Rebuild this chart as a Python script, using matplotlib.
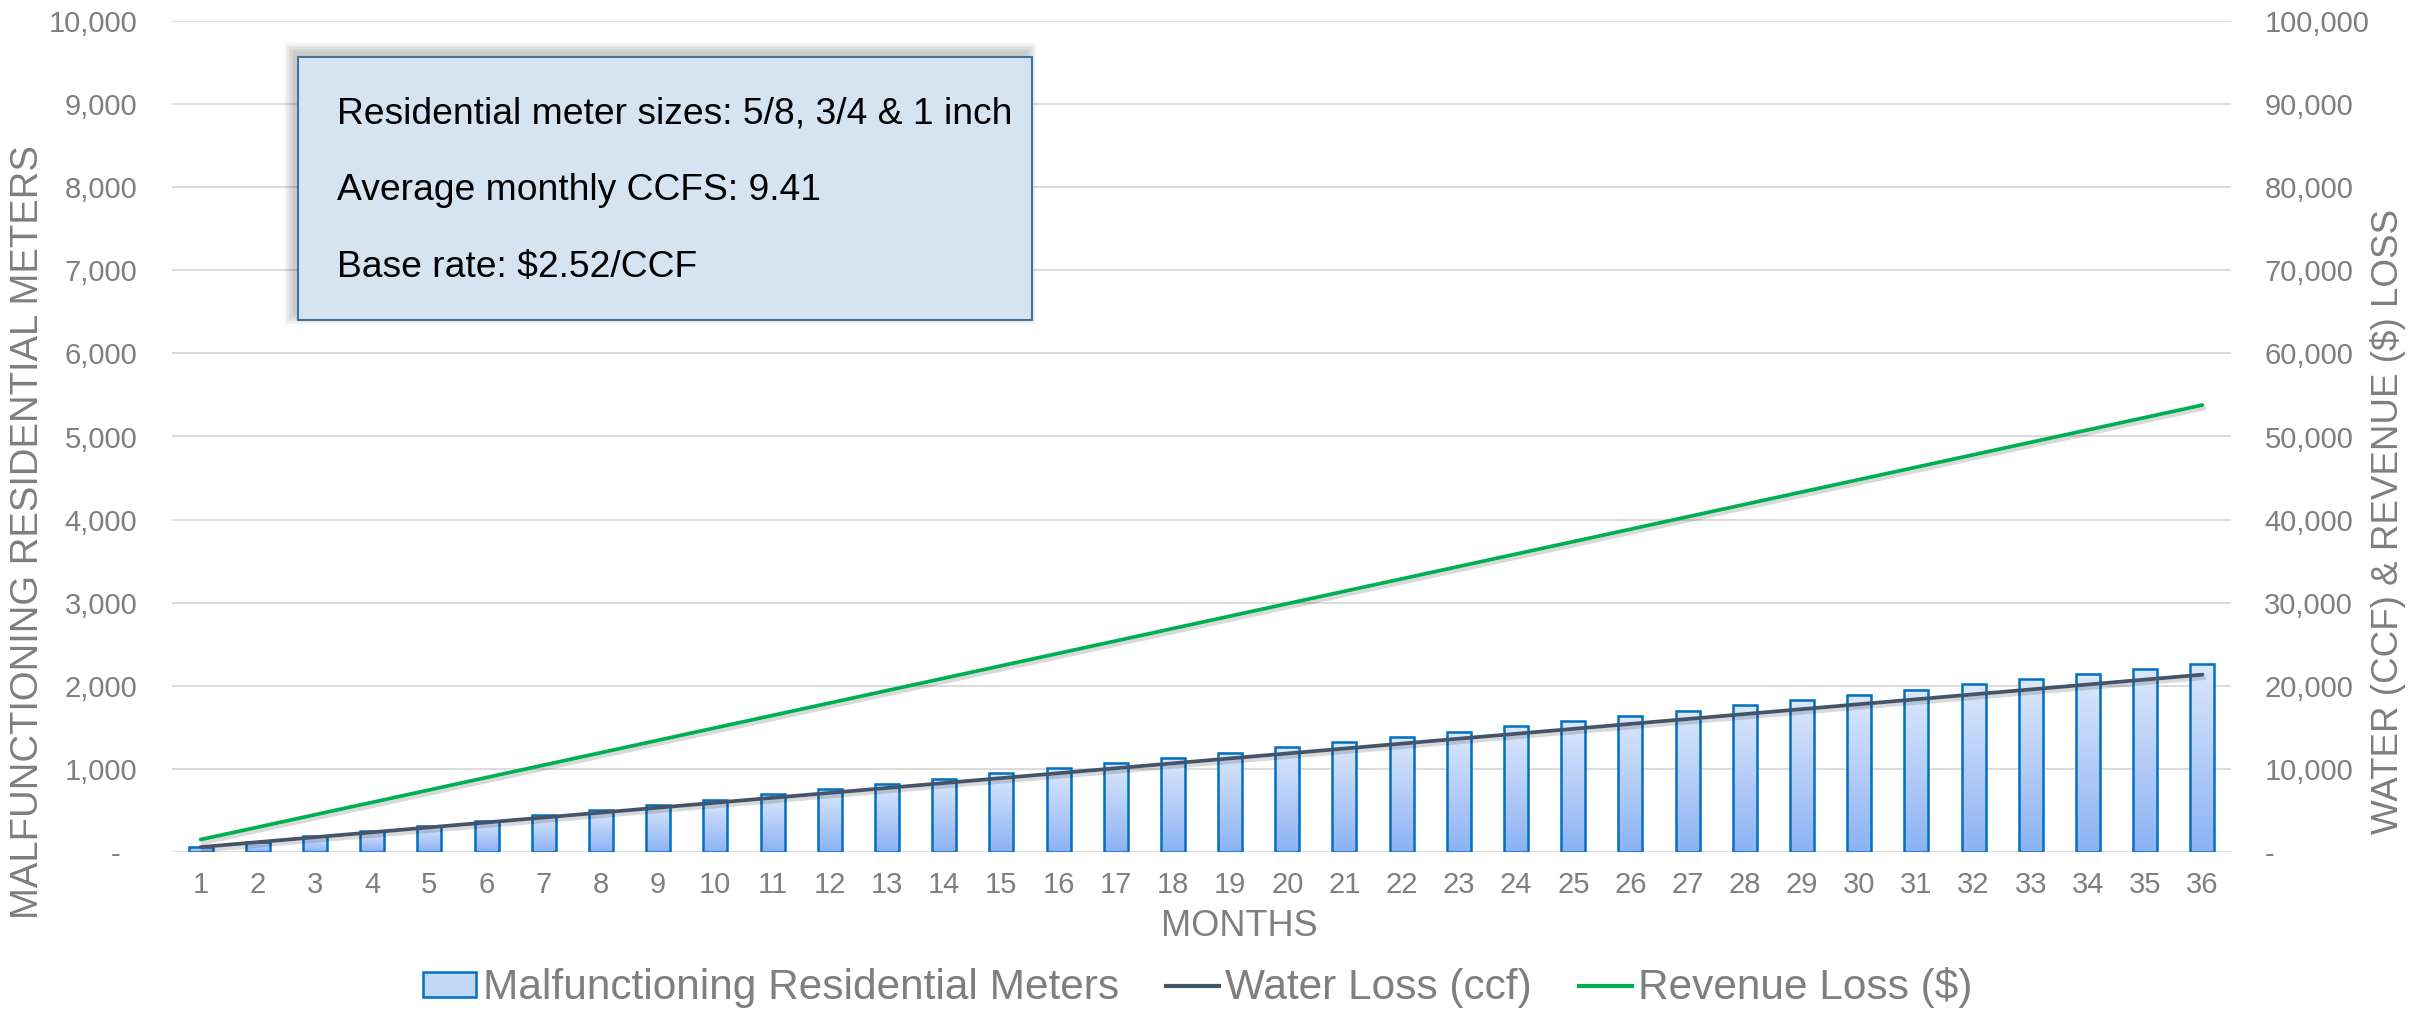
import numpy as np
import matplotlib.pyplot as plt
import matplotlib.patheffects as pe
from matplotlib.patches import Rectangle, Patch
from matplotlib.lines import Line2D
from matplotlib.colors import LinearSegmentedColormap
from matplotlib.ticker import FuncFormatter, MultipleLocator

plt.rcParams['font.family'] = ['Liberation Sans', 'DejaVu Sans']

# monthly figures
months = list(range(1, 37))
meters = [63, 126, 189, 252, 315, 378, 441, 504, 567, 630, 693, 756,
          819, 882, 945, 1008, 1071, 1134, 1197, 1260, 1323, 1386, 1449, 1512,
          1575, 1638, 1701, 1764, 1827, 1890, 1953, 2016, 2079, 2142, 2205, 2268]
water_loss = [593, 1186, 1778, 2371, 2964, 3557, 4150, 4743, 5335, 5928, 6521, 7114,
              7707, 8300, 8892, 9485, 10078, 10671, 11264, 11857, 12449, 13042, 13635, 14228,
              14821, 15414, 16006, 16599, 17192, 17785, 18378, 18971, 19563, 20156, 20749, 21342]
revenue_loss = [1494, 2988, 4482, 5976, 7470, 8964, 10458, 11951, 13445, 14939, 16433, 17927,
                19421, 20915, 22409, 23903, 25397, 26891, 28385, 29879, 31373, 32866, 34360, 35854,
                37348, 38842, 40336, 41830, 43324, 44818, 46312, 47806, 49300, 50794, 52288, 53782]

notes = ['Residential meter sizes: 5/8, 3/4 & 1 inch',
         'Average monthly CCFS: 9.41',
         'Base rate: $2.52/CCF']

grey = '#7F7F7F'
W, H = 2433, 1011

fig = plt.figure(figsize=(W / 100, H / 100), dpi=100)
ax = fig.add_axes([172 / W, 1 - 852 / H, (2231 - 172) / W, 831 / H])
ax2 = ax.twinx()

# bars with a vertical gradient fill
bars = ax.bar(months, meters, width=0.42, facecolor='none', edgecolor='#0070C0',
              linewidth=1.8, zorder=3)
grad = np.linspace(0, 1, 256).reshape(-1, 1)
cmap = LinearSegmentedColormap.from_list('barfill', ['#DCE8FC', '#8CB2F4'])
for b in bars:
    ax.imshow(grad, cmap=cmap, origin='upper', aspect='auto', zorder=2,
              extent=[b.get_x(), b.get_x() + b.get_width(), 0, b.get_height()])

ax.set_xlim(0.5, 36.5)
ax.set_ylim(0, 10000)
ax2.set_ylim(0, 100000)

shadow = [pe.SimpleLineShadow(offset=(1.5, -2.5), shadow_color='k', alpha=0.15), pe.Normal()]
ax2.plot(months, water_loss, color='#44546A', lw=2.7, solid_capstyle='round',
         path_effects=shadow, zorder=4)
ax2.plot(months, revenue_loss, color='#00B050', lw=2.7, solid_capstyle='round',
         path_effects=shadow, zorder=4)

ax.yaxis.set_major_locator(MultipleLocator(1000))
ax2.yaxis.set_major_locator(MultipleLocator(10000))
ax.set_xticks(months)
ax.yaxis.set_major_formatter(FuncFormatter(lambda v, p: '-  ' if v == 0 else f'{v:,.0f}'))
ax2.yaxis.set_major_formatter(FuncFormatter(lambda v, p: '-' if v == 0 else f'{v:,.0f}'))
ax.yaxis.grid(True, color='#D9D9D9', lw=1.3)
ax.set_axisbelow(True)

for a in (ax, ax2):
    for s in a.spines.values():
        s.set_visible(False)
    a.tick_params(length=0, labelcolor=grey, labelsize=21)
ax.tick_params(axis='y', pad=25)
ax2.tick_params(axis='y', pad=24)
ax.tick_params(axis='x', pad=14)

# note box with soft shadow
x0, x1 = (298 - 172) / 2059, (1032 - 172) / 2059
y0, y1 = (852 - 320) / 831, (852 - 57) / 831
px, py = 1 / 2059, 1 / 831
for k in range(7):
    pad = k * 1.5
    ax2.add_patch(Rectangle((x0 - 5 * px - pad * px, y0 + 5 * py - pad * py),
                            (x1 - x0) + 2 * pad * px, (y1 - y0) + 2 * pad * py,
                            transform=ax2.transAxes, facecolor='k', edgecolor='none',
                            alpha=0.03, zorder=5))
ax2.add_patch(Rectangle((x0, y0), x1 - x0, y1 - y0, transform=ax2.transAxes,
                        facecolor='#D6E3F1', edgecolor='#41719C', lw=1.5, zorder=6))
for i, line in enumerate(notes):
    fig.text(337 / W, 1 - (123 + 77 * i) / H, line, fontsize=26.8, color='black',
             ha='left', va='baseline', zorder=7)

# axis titles
fig.text(28.5 / W, 1 - 532 / H, 'MALFUNCTIONING RESIDENTIAL METERS', rotation=90,
         ha='center', va='center', fontsize=27.5, color=grey)
fig.text(2388 / W, 1 - 521 / H, 'WATER (CCF) & REVENUE ($) LOSS', rotation=90,
         ha='center', va='center', fontsize=26.5, color=grey)
fig.text(1239 / W, 1 - 927 / H, 'MONTHS', ha='center', va='center', fontsize=26, color=grey)

handles = [Patch(facecolor='#C3D7F8', edgecolor='#0070C0', lw=1.8),
           Line2D([], [], color='#44546A', lw=3),
           Line2D([], [], color='#00B050', lw=3)]
labels = ['Malfunctioning Residential Meters', 'Water Loss (ccf)', 'Revenue Loss ($)']
leg = fig.legend(handles, labels, loc='center', bbox_to_anchor=(1198 / W, 1 - 988 / H),
                 ncol=3, frameon=False, fontsize=30.5, handlelength=1.25, handleheight=0.55,
                 handletextpad=0.16, columnspacing=1.1, borderpad=0)
for t in leg.get_texts():
    t.set_color(grey)

fig.savefig('out.png', dpi=100)
